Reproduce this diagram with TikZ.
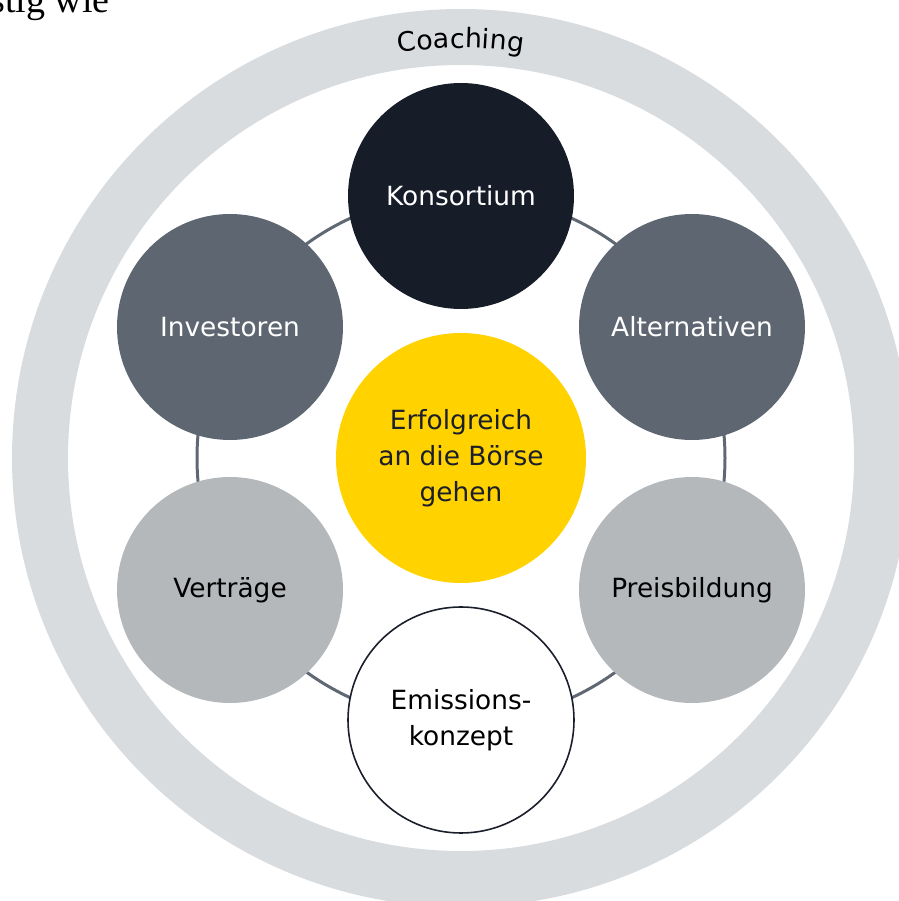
\documentclass[tikz,border=0pt]{standalone}
\usepackage{fontspec}
\setmainfont{DejaVu Sans}
\newfontfamily\serifface{Liberation Serif}
\usetikzlibrary{calc,decorations.text}

\definecolor{ringgrey}{HTML}{D9DCDF}
\definecolor{navy}{HTML}{161D29}
\definecolor{slate}{HTML}{5E6771}
\definecolor{silver}{HTML}{B4B8BB}
\definecolor{eyyellow}{HTML}{FFD200}
\definecolor{linkgrey}{HTML}{5F6873}
\definecolor{inkdark}{HTML}{1A1F2B}

\tikzset{
  topic/.style={circle, minimum size=226*0.5pt, inner sep=0pt, align=center,
    font=\fontsize{13.2}{18}\selectfont},
  darktopic/.style={topic, fill=navy, text=white},
  midtopic/.style={topic, fill=slate, text=white},
  lighttopic/.style={topic, fill=silver, text=black},
  opentopic/.style={topic, fill=white, draw=inkdark, line width=0.8pt, text=black},
  hubnode/.style={topic, minimum size=250*0.5pt, fill=eyyellow, text=inkdark},
  linkring/.style={draw=linkgrey, line width=1.5pt},
  coachring/.style={draw=ringgrey, line width=28pt}
}

\begin{document}
\begin{tikzpicture}[x=0.5pt, y=0.5pt]
  \useasboundingbox (0,0) rectangle (899,901);
  \clip (0,0) rectangle (899,901);

  % running text of the surrounding page
  \node[anchor=base west, inner sep=0pt, text=black,
        font=\serifface\fontsize{19}{20}\selectfont] (runtext) at (-10,888) {stig wie};

  % centre of the diagram
  \coordinate (mid) at (461,443);

  % outer coaching ring with its label following the arc
  \draw[coachring] (mid) circle[radius=421];
  \path[decorate, decoration={text along path, text align=center,
        text={|\fontsize{13.4}{16}\selectfont|Coaching}}]
    ($(mid)+(122:410)$) arc[start angle=122, end angle=58, radius=410];

  % ring linking the six topics
  \draw[linkring] (mid) circle[radius=264];

  % hub and topics
  \node[hubnode] (hub) at (mid) {Erfolgreich\\an die Börse\\gehen};
  \node[darktopic]  (konsortium) at (461,705) {Konsortium};
  \node[midtopic]   (investoren) at (230,574) {Investoren};
  \node[midtopic]   (alternativen) at (692,574) {Alternativen};
  \node[lighttopic] (vertraege) at (230,311) {Verträge};
  \node[lighttopic] (preis) at (692,311) {Preisbildung};
  \node[opentopic]  (emission) at (461,181) {Emissions-\\konzept};
\end{tikzpicture}
\end{document}
